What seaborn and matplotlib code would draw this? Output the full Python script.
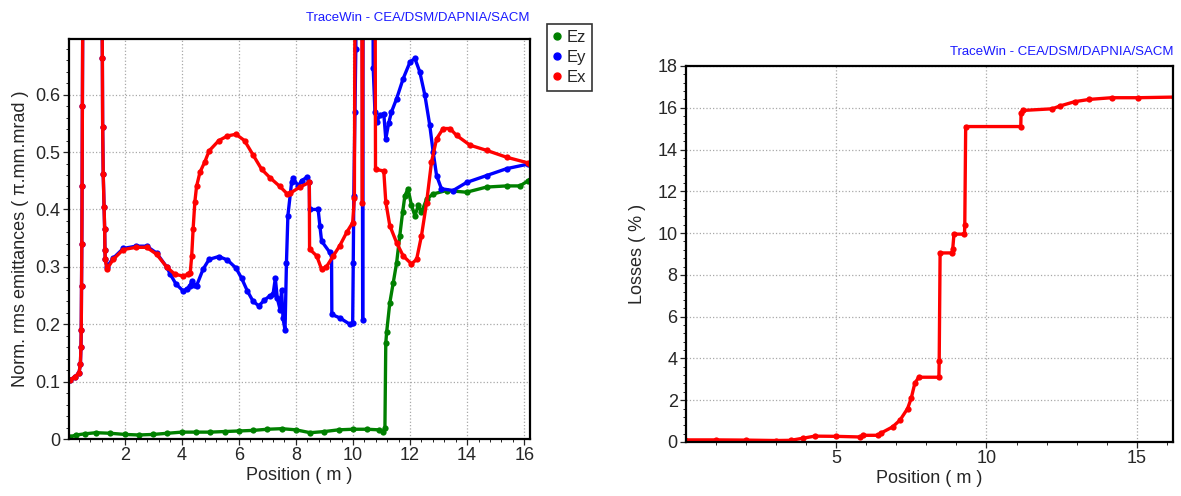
import numpy as np
import pandas as pd
import matplotlib
matplotlib.use('Agg')
import matplotlib.pyplot as plt
from matplotlib.lines import Line2D
from matplotlib.ticker import MultipleLocator, FormatStrFormatter
import seaborn as sns

# emittance curves (values above 0.7 run off the top)
ex_pos = [0.08, 0.25, 0.40, 0.45, 0.47, 0.48, 0.49, 0.50, 0.51, 0.52, 0.55,
          1.18, 1.22, 1.23, 1.25, 1.28, 1.30, 1.31, 1.32, 1.38, 1.60, 1.95, 2.40,
          2.77, 3.12, 3.47, 3.76, 4.05, 4.23, 4.30, 4.35, 4.40, 4.46, 4.52, 4.64,
          4.81, 4.96, 5.30, 5.60, 5.90, 6.20, 6.50, 6.80, 7.10, 7.44, 7.70, 7.79,
          8.14, 8.47, 8.48, 8.73, 8.90, 9.07, 9.31, 9.54, 9.78, 9.99, 10.05, 10.08,
          10.30, 10.33, 10.36, 10.77, 10.79, 11.08, 11.15, 11.29, 11.53, 11.76,
          12.05, 12.23, 12.40, 12.58, 12.75, 12.93, 13.16, 13.40, 13.63, 14.10,
          14.68, 15.38, 16.14, 16.20]
ex_val = [0.103, 0.108, 0.115, 0.130, 0.160, 0.190, 0.267, 0.340, 0.440, 0.580, 0.950,
          0.950, 0.663, 0.544, 0.462, 0.404, 0.366, 0.330, 0.313, 0.296, 0.313, 0.330, 0.334,
          0.334, 0.322, 0.300, 0.287, 0.284, 0.287, 0.290, 0.319, 0.366, 0.413, 0.440, 0.465,
          0.483, 0.502, 0.520, 0.528, 0.531, 0.520, 0.495, 0.470, 0.455, 0.440, 0.427, 0.428,
          0.439, 0.447, 0.331, 0.319, 0.296, 0.300, 0.319, 0.337, 0.360, 0.377, 0.420, 0.950,
          0.950, 0.412, 0.950, 0.950, 0.470, 0.467, 0.413, 0.372, 0.342, 0.319,
          0.305, 0.313, 0.354, 0.412, 0.482, 0.523, 0.541, 0.541, 0.529, 0.512,
          0.503, 0.491, 0.481, 0.480]

ey_pos = [0.08, 0.25, 0.40, 0.45, 0.47, 0.48, 0.49, 0.50, 0.51, 0.52, 0.55,
          1.18, 1.22, 1.23, 1.25, 1.28, 1.30, 1.31, 1.32, 1.38, 1.60, 1.95, 2.40,
          2.77, 3.12, 3.47, 3.60, 3.80, 4.05, 4.20, 4.29, 4.35, 4.42, 4.52, 4.75,
          4.96, 5.30, 5.60, 5.90, 6.10, 6.30, 6.50, 6.70, 6.90, 7.10, 7.20, 7.28,
          7.35, 7.45, 7.50, 7.55, 7.62, 7.67, 7.72, 7.85, 7.90, 8.08, 8.20, 8.38,
          8.47, 8.48, 8.78, 8.84, 8.90, 9.19, 9.25, 9.26, 9.54, 9.89, 9.99, 10.01,
          10.03, 10.07, 10.10, 10.12, 10.32, 10.34, 10.36, 10.69, 10.71, 10.77,
          10.83, 10.94, 11.08, 11.15, 11.25, 11.35, 11.53, 11.76, 12.00, 12.17,
          12.34, 12.52, 12.69, 12.81, 12.93, 13.10, 13.51, 13.98, 14.68, 15.38,
          16.14, 16.20]
ey_val = [0.103, 0.108, 0.115, 0.130, 0.160, 0.190, 0.267, 0.340, 0.440, 0.580, 0.950,
          0.950, 0.663, 0.544, 0.462, 0.404, 0.366, 0.330, 0.313, 0.300, 0.315, 0.332, 0.336,
          0.336, 0.324, 0.300, 0.287, 0.270, 0.258, 0.262, 0.267, 0.275, 0.268, 0.267, 0.296,
          0.313, 0.318, 0.312, 0.298, 0.280, 0.258, 0.240, 0.232, 0.242, 0.250, 0.252, 0.280,
          0.245, 0.225, 0.260, 0.210, 0.190, 0.307, 0.389, 0.447, 0.455, 0.441, 0.450, 0.456,
          0.447, 0.400, 0.400, 0.372, 0.345, 0.325, 0.320, 0.217, 0.211, 0.200, 0.202, 0.307,
          0.424, 0.570, 0.680, 0.950, 0.950, 0.208, 0.950, 0.950, 0.646, 0.570,
          0.552, 0.564, 0.567, 0.523, 0.550, 0.570, 0.593, 0.628, 0.657, 0.663,
          0.640, 0.599, 0.547, 0.500, 0.459, 0.436, 0.433, 0.447, 0.459, 0.471,
          0.479, 0.480]

ez_pos = [0.08, 0.30, 0.60, 1.00, 1.50, 2.00, 2.50, 3.00, 3.50, 4.00, 4.50, 5.00,
          5.50, 6.00, 6.50, 7.00, 7.50, 8.00, 8.50, 9.00, 9.50, 10.00, 10.50, 10.90,
          11.05, 11.12, 11.15, 11.18, 11.29, 11.41, 11.53, 11.64, 11.74, 11.82, 11.93,
          12.05, 12.17, 12.29, 12.40, 12.58, 12.81, 13.28, 13.98, 14.68, 15.38, 15.85,
          16.14, 16.20]
ez_val = [0.004, 0.007, 0.009, 0.011, 0.010, 0.008, 0.007, 0.008, 0.010, 0.012, 0.012, 0.012,
          0.013, 0.014, 0.015, 0.017, 0.018, 0.016, 0.011, 0.013, 0.016, 0.017, 0.017, 0.016,
          0.012, 0.020, 0.167, 0.186, 0.237, 0.272, 0.307, 0.354, 0.395, 0.424, 0.436,
          0.407, 0.389, 0.407, 0.395, 0.418, 0.427, 0.433, 0.430, 0.439, 0.441, 0.441,
          0.450, 0.452]

# cumulative losses
loss_pos = [0.0, 1.0, 2.0, 3.0, 3.5, 3.9, 4.3, 5.0, 5.8, 5.9, 6.4, 6.5, 6.88, 7.13,
            7.38, 7.5, 7.62, 7.75, 8.42, 8.43, 8.46, 8.86, 8.88, 8.92, 9.27, 9.28,
            9.31, 11.14, 11.15, 11.2, 12.19, 12.43, 12.93, 13.42, 14.16, 15.02, 16.22]
loss_val = [0.1, 0.1, 0.09, 0.07, 0.08, 0.18, 0.28, 0.27, 0.24, 0.32, 0.32, 0.43, 0.72, 1.05,
            1.6, 2.09, 2.81, 3.1, 3.1, 3.86, 9.05, 9.05, 9.24, 9.95, 9.95, 10.4,
            15.1, 15.1, 15.75, 15.87, 15.95, 16.08, 16.29, 16.4, 16.48, 16.48, 16.51]

colors = {'Ez': '#008000', 'Ey': '#0000ff', 'Ex': '#ff0000'}

emit = pd.concat([
    pd.DataFrame({'pos': ez_pos, 'val': ez_val, 'plane': 'Ez'}),
    pd.DataFrame({'pos': ey_pos, 'val': ey_val, 'plane': 'Ey'}),
    pd.DataFrame({'pos': ex_pos, 'val': ex_val, 'plane': 'Ex'}),
], ignore_index=True)
losses = pd.DataFrame({'pos': loss_pos, 'val': loss_val})

sns.set_style('ticks')
plt.rcParams['font.family'] = ['Liberation Sans', 'DejaVu Sans']
plt.rcParams['xtick.direction'] = 'out'
plt.rcParams['ytick.direction'] = 'out'

fig = plt.figure(figsize=(11.81, 4.96), dpi=100)
ax1 = fig.add_axes([0.0584, 0.1149, 0.3903, 0.8065])
ax2 = fig.add_axes([0.5809, 0.1089, 0.4124, 0.7581])

sns.lineplot(data=emit, x='pos', y='val', hue='plane', palette=colors,
             sort=False, estimator=None, marker='o', markersize=4.5,
             markeredgewidth=0, linewidth=2.4, legend=False, ax=ax1)
sns.lineplot(data=losses, x='pos', y='val', color='#ff0000',
             sort=False, estimator=None, marker='o', markersize=4.5,
             markeredgewidth=0, linewidth=2.4, ax=ax2)

grid_kw = dict(color='#a8a8a8', linestyle=':', linewidth=0.9)

ax1.set_xlim(0.05, 16.2)
ax1.set_ylim(0, 0.697)
ax1.xaxis.set_major_locator(MultipleLocator(2))
ax1.xaxis.set_minor_locator(MultipleLocator(0.4))
ax1.yaxis.set_major_locator(MultipleLocator(0.1))
ax1.yaxis.set_minor_locator(MultipleLocator(0.02))
ax1.yaxis.set_major_formatter(FormatStrFormatter('%g'))
ax1.set_xlabel('Position ( m )', fontsize=13, labelpad=2)
ax1.set_ylabel('Norm. rms emittances ( π.mm.mrad )', fontsize=13, labelpad=5)

ax2.set_xlim(0.02, 16.2)
ax2.set_ylim(0, 18)
ax2.xaxis.set_major_locator(MultipleLocator(5))
ax2.xaxis.set_minor_locator(MultipleLocator(1))
ax2.yaxis.set_major_locator(MultipleLocator(2))
ax2.yaxis.set_minor_locator(MultipleLocator(0.4))
ax2.set_xlabel('Position ( m )', fontsize=13, labelpad=2)
ax2.set_ylabel('Losses ( % )', fontsize=13, labelpad=8)

for ax, ty in ((ax1, 1.037), (ax2, 1.022)):
    ax.grid(True, which='major', **grid_kw)
    ax.tick_params(which='major', length=4, width=0.9, labelsize=13, pad=2)
    ax.tick_params(which='minor', length=2.5, width=0.7)
    for s in ax.spines.values():
        s.set_linewidth(1.6)
        s.set_color('black')
    ax.text(1.0, ty, 'TraceWin - CEA/DSM/DAPNIA/SACM', transform=ax.transAxes,
            ha='right', va='bottom', fontsize=9.5, color='#1a1aff')

handles = [Line2D([], [], linestyle='none', marker='o', markersize=5,
                  color=colors[k]) for k in ('Ez', 'Ey', 'Ex')]
leg = fig.legend(handles, ['Ez', 'Ey', 'Ex'], loc='upper left',
                 bbox_to_anchor=(0.4632, 0.9516), frameon=True, fancybox=False,
                 fontsize=12, handlelength=0.5, handletextpad=0.3,
                 borderpad=0.35, labelspacing=0.3, borderaxespad=0)
leg.get_frame().set_edgecolor('black')
leg.get_frame().set_linewidth(1.2)

fig.savefig('out.png', dpi=100)
